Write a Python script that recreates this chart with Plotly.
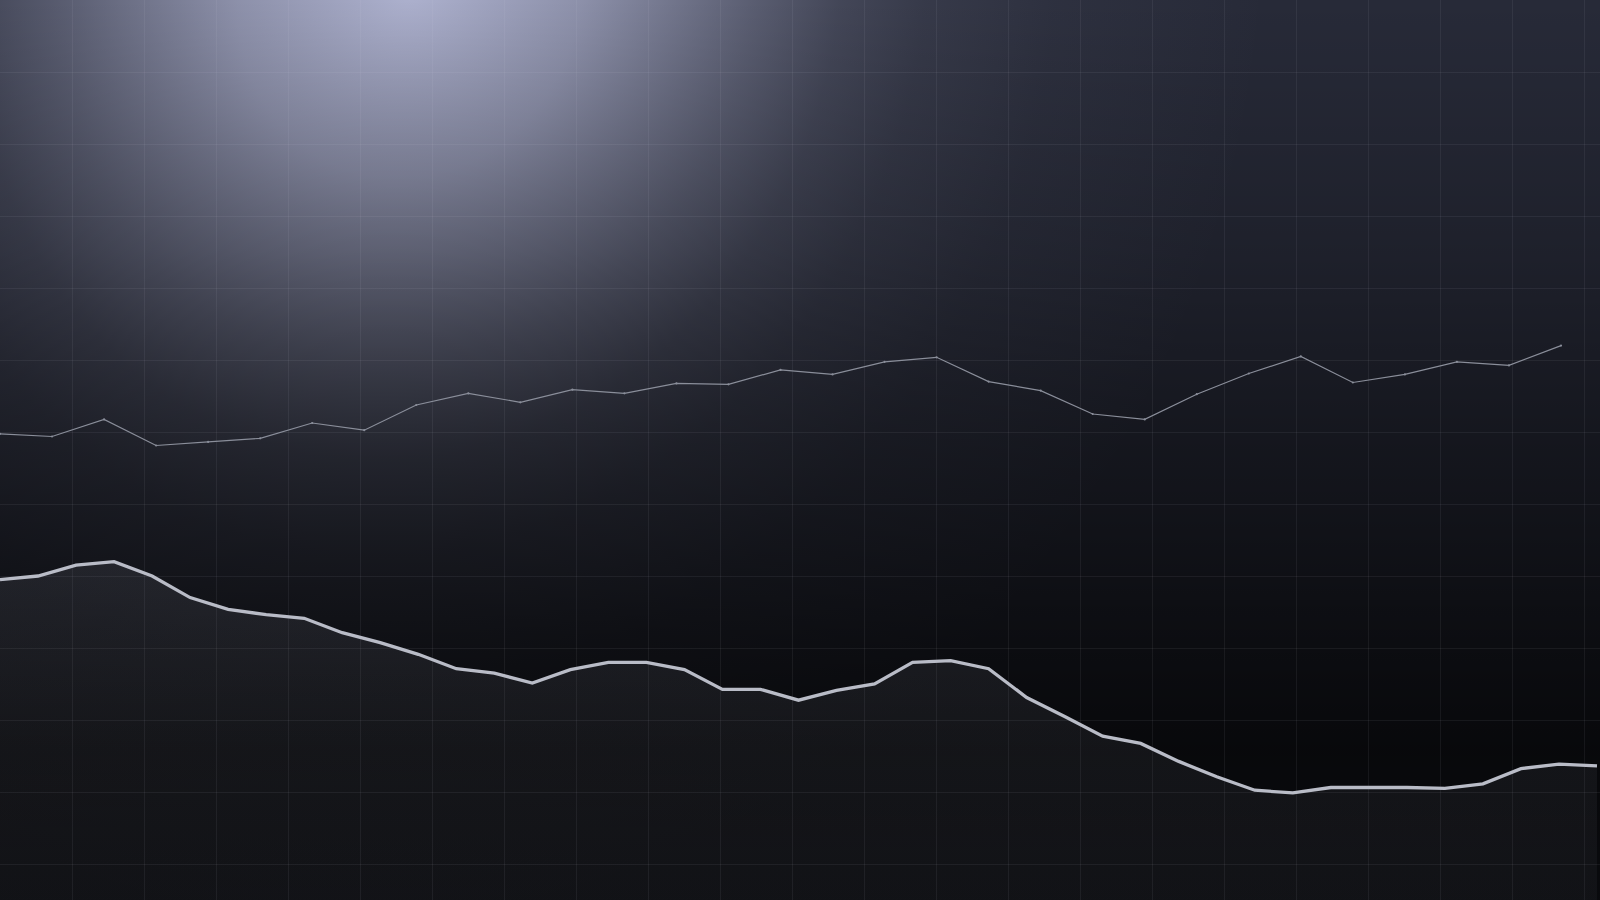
import base64
import numpy as np
import plotly.graph_objects as go

# upper series (thin grey line), 31 samples
upper_vals = [51.8, 51.5, 53.4, 50.5, 50.9, 51.3, 53.0, 52.2, 55.0, 56.3,
              55.3, 56.7, 56.3, 57.4, 57.3, 58.9, 58.4, 59.8, 60.3, 57.6,
              56.6, 54.0, 53.4, 56.2, 58.5, 60.4, 57.5, 58.4, 59.8, 59.4,
              61.6]

# lower series (thick light line with area), 43 samples
lower_vals = [35.6, 36.0, 37.2, 37.6, 36.0, 33.6, 32.3, 31.7, 31.3, 29.7,
              28.6, 27.3, 25.7, 25.2, 24.1, 25.6, 26.4, 26.4, 25.6, 23.4,
              23.4, 22.2, 23.3, 24.0, 26.4, 26.6, 25.7, 22.5, 20.4, 18.2,
              17.4, 15.4, 13.7, 12.2, 11.9, 12.5, 12.5, 12.5, 12.4, 12.9,
              14.6, 15.1, 14.9]

upper_x = list(range(len(upper_vals)))
lower_x = list(range(len(lower_vals)))

W, H = 1600, 900
# how far the series reach across the canvas (px)
lower_reach = 1597
upper_reach = 1561
lower_span = (len(lower_vals) - 1) * W / lower_reach
upper_span = (len(upper_vals) - 1) * W / upper_reach
grid_px = 72

# background: dark vertical ramp with a soft light spot at the top,
# stretched a little towards the lower left
svg = f"""<svg xmlns='http://www.w3.org/2000/svg' width='{W}' height='{H}' viewBox='0 0 {W} {H}' preserveAspectRatio='none'>
<defs>
<radialGradient id='spot' gradientUnits='userSpaceOnUse' cx='410' cy='-10' r='850'
 gradientTransform='translate(410 -10) rotate(20) scale(1 1.12) translate(-410 10)'>
<stop offset='0' stop-color='#b4b8d6' stop-opacity='0.95'/>
<stop offset='0.2' stop-color='#b4b8d6' stop-opacity='0.72'/>
<stop offset='0.4' stop-color='#b4b8d6' stop-opacity='0.36'/>
<stop offset='0.5' stop-color='#b4b8d6' stop-opacity='0.2'/>
<stop offset='0.6' stop-color='#b4b8d6' stop-opacity='0.11'/>
<stop offset='0.75' stop-color='#b4b8d6' stop-opacity='0.045'/>
<stop offset='1' stop-color='#b4b8d6' stop-opacity='0'/>
</radialGradient>
<linearGradient id='shade' x1='0' y1='0' x2='0' y2='1'>
<stop offset='0' stop-color='#000' stop-opacity='0'/>
<stop offset='0.28' stop-color='#000' stop-opacity='0.23'/>
<stop offset='0.49' stop-color='#000' stop-opacity='0.47'/>
<stop offset='0.72' stop-color='#000' stop-opacity='0.7'/>
<stop offset='0.83' stop-color='#000' stop-opacity='0.8'/>
<stop offset='1' stop-color='#000' stop-opacity='0.76'/>
</linearGradient>
</defs>
<rect width='{W}' height='{H}' fill='#272a38'/>
<rect width='{W}' height='{H}' fill='url(#spot)'/>
<rect width='{W}' height='{H}' fill='url(#shade)'/>
</svg>"""
bg_uri = "data:image/svg+xml;base64," + base64.b64encode(svg.encode()).decode()

fig = go.Figure()

fig.add_trace(go.Scatter(
    x=lower_x, y=lower_vals, mode='lines',
    line=dict(color='#b9bcc7', width=3.3),
    fill='tozeroy',
    fillgradient=dict(type='vertical', start=0, stop=max(lower_vals),
                      colorscale=[[0, 'rgba(215,220,240,0.04)'],
                                  [1, 'rgba(215,220,240,0.08)']]),
    hoverinfo='skip',
))

fig.add_trace(go.Scatter(
    x=upper_x, y=upper_vals, mode='lines+markers', xaxis='x2',
    line=dict(color='#8a8e9a', width=1.2),
    marker=dict(color='#8a8e9a', size=2.2),
    hoverinfo='skip',
))

grid_color = 'rgba(220,225,245,0.065)'
fig.update_layout(
    width=W, height=H,
    margin=dict(l=0, r=0, t=0, b=0),
    showlegend=False,
    paper_bgcolor='#0b0c10',
    plot_bgcolor='rgba(0,0,0,0)',
    xaxis=dict(range=[0, lower_span], showgrid=True, gridcolor=grid_color, gridwidth=1,
               tick0=0, dtick=grid_px * lower_span / W,
               showticklabels=False, ticks='', zeroline=False, showline=False, fixedrange=True),
    xaxis2=dict(range=[0, upper_span], overlaying='x', visible=False, fixedrange=True),
    yaxis=dict(range=[0, 100], showgrid=True, gridcolor=grid_color, gridwidth=1,
               tick0=4, dtick=grid_px * 100 / H,
               showticklabels=False, ticks='', zeroline=False, showline=False, fixedrange=True),
    images=[dict(source=bg_uri, xref='paper', yref='paper', x=0, y=1,
                 sizex=1, sizey=1, xanchor='left', yanchor='top',
                 sizing='stretch', layer='below')],
)

fig.write_html("out.html", config={'displayModeBar': False},
               post_script="document.body.style.margin='0';document.body.style.overflow='hidden';")
